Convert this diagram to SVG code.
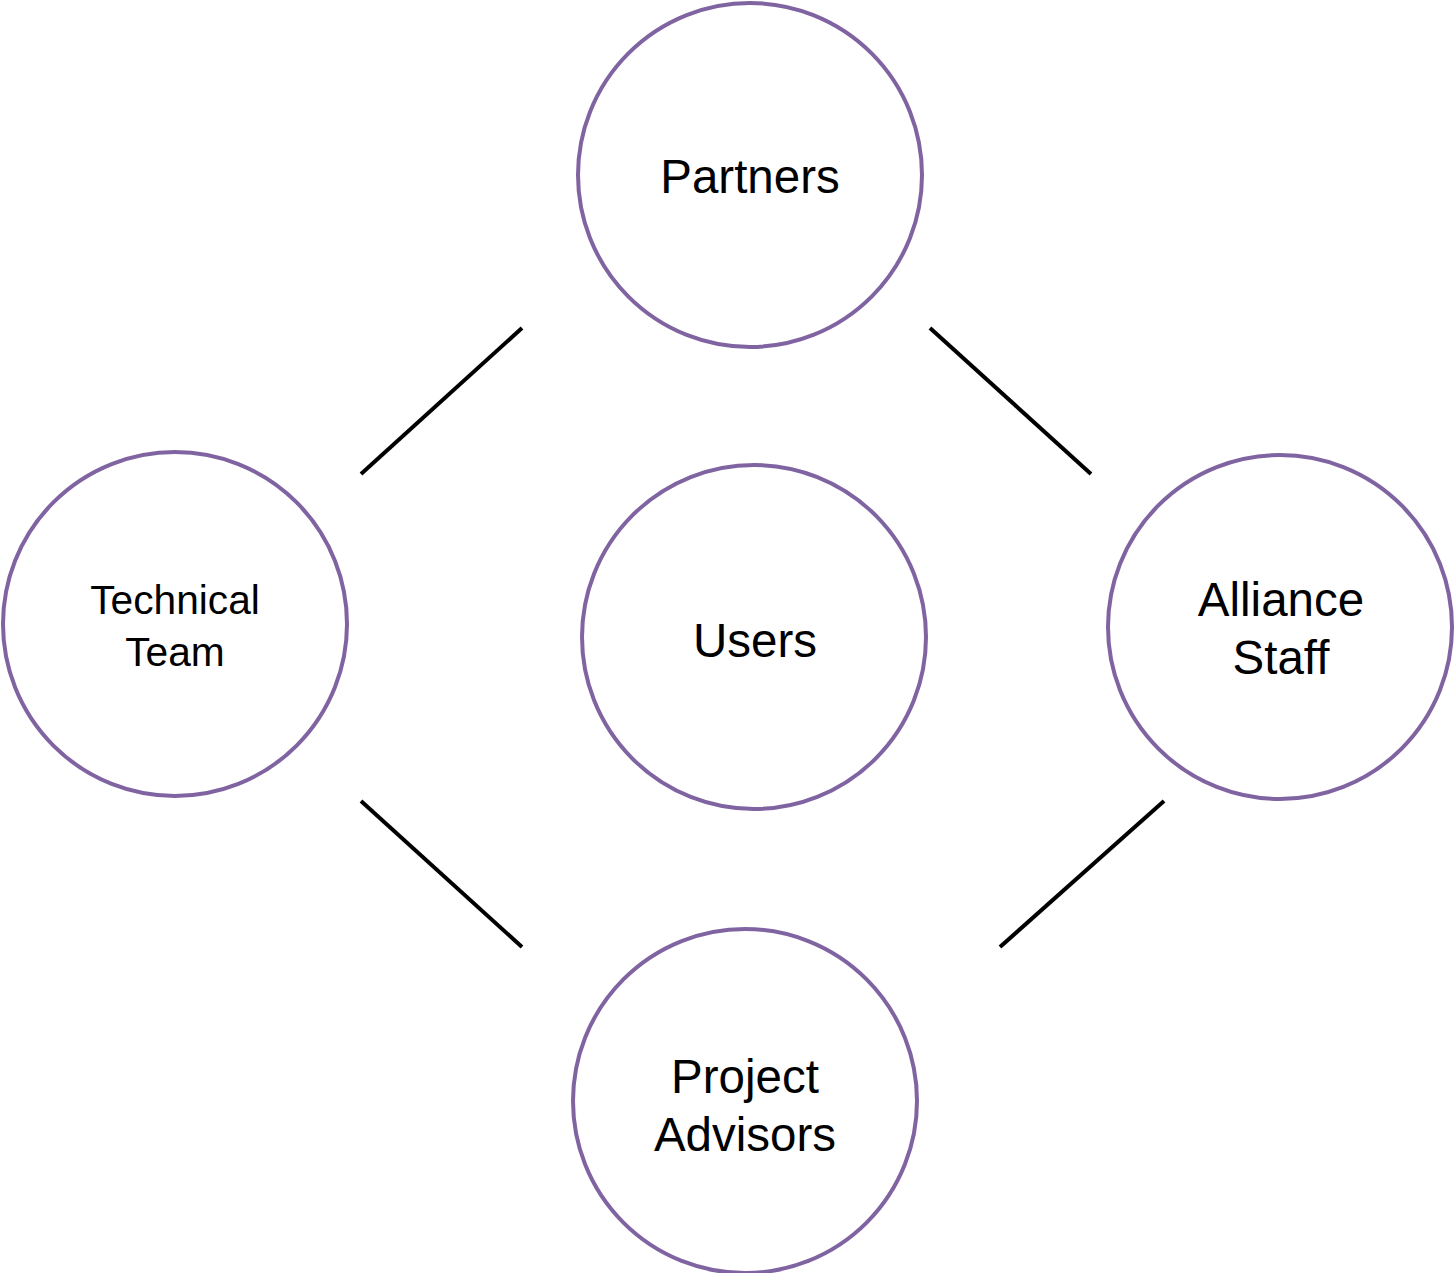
<svg xmlns="http://www.w3.org/2000/svg" width="1454" height="1273" viewBox="0 0 1454 1273">
<style>
.node{fill:#fff;stroke:#8064A2;stroke-width:4}
.conn{stroke:#000;stroke-width:4;fill:none}
.lbl{font-family:"Liberation Sans",Arial,sans-serif;fill:#000;text-anchor:middle}
.big{font-size:47.5px}
.small{font-size:40.7px}
</style>
<rect width="1454" height="1273" fill="#fff"/>
<g id="connectors">
<line class="conn" x1="361" y1="474" x2="522" y2="328"/>
<line class="conn" x1="930" y1="328" x2="1091" y2="474"/>
<line class="conn" x1="361" y1="801" x2="522" y2="947"/>
<line class="conn" x1="1164" y1="801" x2="1000" y2="947"/>
</g>
<g id="partners">
<circle class="node" cx="750" cy="175" r="172"/>
<text class="lbl big" x="750" y="193">Partners</text>
</g>
<g id="technical-team">
<circle class="node" cx="175" cy="624" r="172"/>
<text class="lbl small" x="175" y="614">Technical</text>
<text class="lbl small" x="175" y="666">Team</text>
</g>
<g id="users">
<circle class="node" cx="754" cy="637" r="172"/>
<text class="lbl big" x="755" y="657">Users</text>
</g>
<g id="alliance-staff">
<circle class="node" cx="1280" cy="627" r="172"/>
<text class="lbl big" x="1281" y="616">Alliance</text>
<text class="lbl big" x="1281" y="674">Staff</text>
</g>
<g id="project-advisors">
<circle class="node" cx="745" cy="1101" r="172"/>
<text class="lbl big" x="745" y="1093">Project</text>
<text class="lbl big" x="745" y="1151">Advisors</text>
</g>
</svg>
